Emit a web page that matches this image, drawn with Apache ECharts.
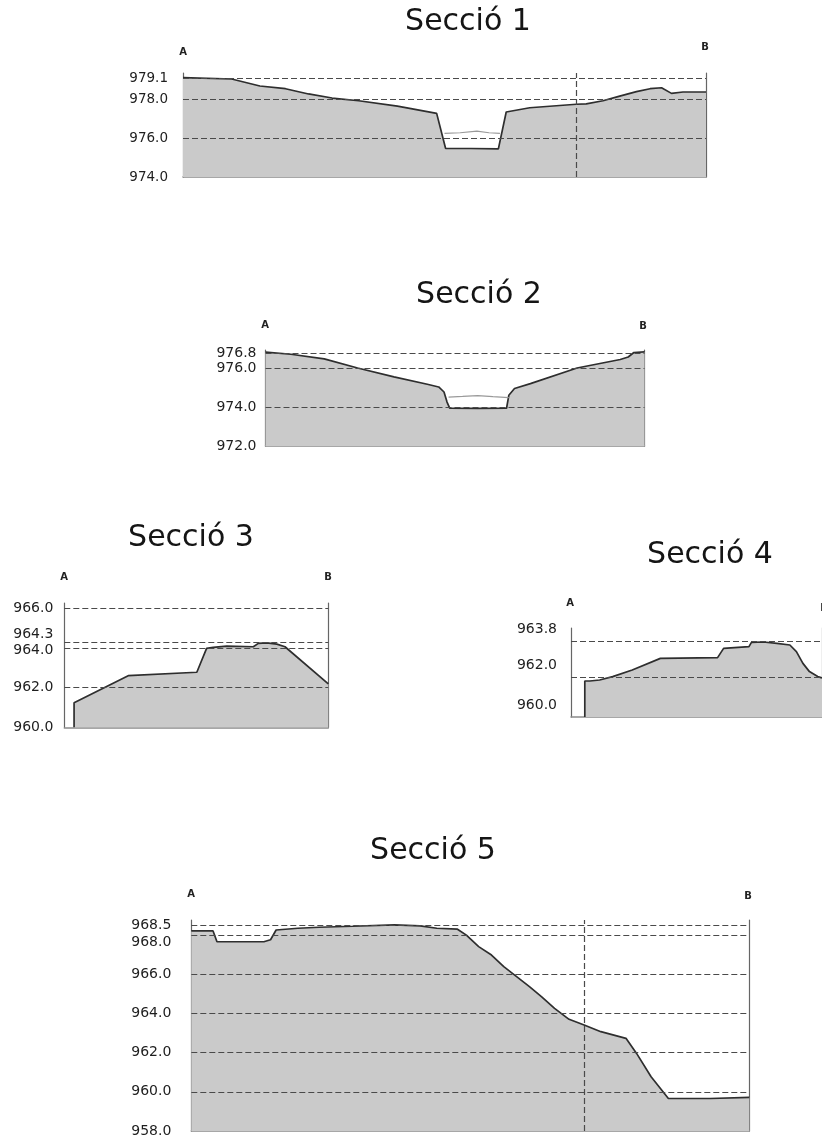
<!DOCTYPE html>
<html><head><meta charset="utf-8">
<script src="https://cdn.jsdelivr.net/npm/echarts@6/dist/echarts.min.js"></script>
<style>html,body{margin:0;padding:0;background:#fff}#c{width:822px;height:1141px}</style>
</head><body><div id="c"></div>
<script>
// ---------------- DATA ----------------
const titles = ['Secció 1', 'Secció 2', 'Secció 3', 'Secció 4', 'Secció 5'];
const endLabels = ['A', 'B'];

// Secció 1
const s1Dist = [0, 9.3, 14.7, 19.6, 24.0, 28.5, 33.6, 41.0, 48.5, 50.2, 55.0, 60.3, 61.8, 66.3, 75.2, 77.1, 80.3, 83.5, 86.7, 89.3, 91.5, 93.4, 95.6, 100];
const s1Elev = [979.12, 979.05, 978.69, 978.55, 978.28, 978.07, 977.93, 977.65, 977.28, 975.48, 975.47, 975.45, 977.35, 977.57, 977.75, 977.77, 977.93, 978.17, 978.40, 978.55, 978.60, 978.31, 978.38, 978.38];
const s1WaterDist = [50.0, 53.0, 56.2, 58.5, 60.6];
const s1WaterElev = [976.25, 976.28, 976.36, 976.28, 976.25];
const s1Ticks = [974.0, 976.0, 978.0, 979.1];
const s1Levels = [976.0, 978.0, 979.1];
const s1Marker = 75.1;

// Secció 2
const s2Dist = [0, 6.7, 15.5, 24.3, 33.9, 42.7, 45.7, 47.1, 47.9, 48.6, 56.0, 63.6, 64.2, 65.7, 69.9, 82.2, 93.6, 95.7, 97.2, 100];
const s2Elev = [976.85, 976.74, 976.50, 976.03, 975.57, 975.19, 975.05, 974.79, 974.27, 973.96, 973.94, 973.95, 974.62, 974.97, 975.22, 976.03, 976.47, 976.60, 976.83, 976.86];
const s2WaterDist = [48.3, 52.0, 56.0, 60.0, 64.2];
const s2WaterElev = [974.53, 974.56, 974.60, 974.55, 974.50];
const s2Ticks = [972.0, 974.0, 976.0, 976.8];
const s2Levels = [974.0, 976.0, 976.8];

// Secció 3
const s3Dist = [3.7, 3.7, 24.2, 50.2, 53.9, 56.4, 61.5, 71.6, 73.5, 76.7, 80.5, 83.6, 100];
const s3Elev = [960.0, 961.24, 962.61, 962.78, 963.99, 964.04, 964.10, 964.07, 964.24, 964.27, 964.20, 964.07, 962.19];
const s3Ticks = [960.0, 962.0, 964.0, 964.3, 966.0];
const s3Levels = [962.0, 964.0, 964.3, 966.0];

// Secció 4
const s4Dist = [5.5, 5.5, 7.5, 11.4, 16.6, 24.4, 35.6, 58.4, 60.8, 70.9, 71.9, 76.7, 82.0, 87.2, 89.8, 92.4, 95.0, 98.3, 100];
const s4Elev = [960.0, 961.80, 961.80, 961.85, 962.02, 962.35, 962.93, 962.97, 963.43, 963.52, 963.73, 963.75, 963.68, 963.60, 963.27, 962.68, 962.27, 962.02, 961.95];
const s4Ticks = [960.0, 962.0, 963.8];
const s4Levels = [962.0, 963.8];

// Secció 5
const s5Dist = [0, 3.9, 4.6, 13.0, 14.2, 15.2, 19.1, 22.9, 28.9, 36.4, 41.0, 44.0, 47.7, 49.3, 51.5, 53.8, 56.0, 58.3, 60.6, 62.8, 65.1, 67.7, 70.4, 73.4, 77.9, 79.8, 82.4, 85.5, 93.0, 100];
const s5Elev = [968.21, 968.21, 967.66, 967.66, 967.76, 968.26, 968.35, 968.40, 968.45, 968.52, 968.47, 968.35, 968.30, 968.00, 967.41, 966.98, 966.39, 965.88, 965.37, 964.85, 964.26, 963.70, 963.41, 963.07, 962.73, 961.96, 960.77, 959.66, 959.66, 959.72];
const s5Ticks = [958.0, 960.0, 962.0, 964.0, 966.0, 968.0, 968.5];
const s5Levels = [960.0, 962.0, 964.0, 966.0, 968.0, 968.5];
const s5Marker = 70.4;

// ---------------- LAYOUT ----------------
const FONT = 'DejaVu Sans';
const layout = [
  {left: 183, top: 73, width: 523, height: 104, min: 974, max: 979.36, size: 13.5, margin: 15, off: {},
   title: [468, 22], A: [183, 52], B: [705, 47]},
  {left: 265.5, top: 350, width: 379, height: 96, min: 972, max: 976.96, size: 14, margin: 9, off: {},
   title: [479, 295], A: [265, 325], B: [643, 326]},
  {left: 64.3, top: 603, width: 264, height: 124.3, min: 960, max: 966.28, size: 14, margin: 11, off: {'964.3': -8, '964.0': 2},
   title: [191, 538], A: [64, 577], B: [328, 577]},
  {left: 571, top: 628, width: 255, height: 89, min: 960, max: 964.45, size: 14, margin: 14, off: {all: -12},
   title: [710, 555], A: [570, 603], B: [824, 608]},
  {left: 191.3, top: 920, width: 558, height: 211, min: 958, max: 968.77, size: 14, margin: 20, off: {'968.0': 7},
   title: [433, 851], A: [191, 894], B: [748, 896]}
];

const sections = [
  {dist: s1Dist, elev: s1Elev, wDist: s1WaterDist, wElev: s1WaterElev, ticks: s1Ticks, levels: s1Levels, marker: s1Marker},
  {dist: s2Dist, elev: s2Elev, wDist: s2WaterDist, wElev: s2WaterElev, ticks: s2Ticks, levels: s2Levels},
  {dist: s3Dist, elev: s3Elev, ticks: s3Ticks, levels: s3Levels},
  {dist: s4Dist, elev: s4Elev, ticks: s4Ticks, levels: s4Levels},
  {dist: s5Dist, elev: s5Elev, ticks: s5Ticks, levels: s5Levels, marker: s5Marker}
];

function offsetOf(L, v) {
  if (L.off.all !== undefined) return L.off.all;
  const k = v.toFixed(1);
  return L.off[k] || 0;
}
function keyOf(o) { return o < 0 ? 'u' + (-o) : (o > 0 ? 'd' + o : 'n'); }

const grid = [], xAxis = [], yAxis = [], series = [], graphic = [];
sections.forEach((S, i) => {
  const L = layout[i];
  grid.push({left: L.left, top: L.top, width: L.width, height: L.height, containLabel: false});
  xAxis.push({type: 'value', gridIndex: i, min: 0, max: 100,
    axisLine: {show: true, onZero: false, lineStyle: {color: '#8a8a8a', width: 1.5}},
    axisTick: {show: false}, axisLabel: {show: false}, splitLine: {show: false}});
  const base = {fontFamily: FONT, fontSize: L.size, color: '#1e1e1e'};
  const rich = {n: Object.assign({}, base)};
  S.ticks.forEach(t => {
    const o = offsetOf(L, t);
    if (o !== 0) rich[keyOf(o)] = Object.assign({}, base, {padding: o < 0 ? [0, 0, -2 * o, 0] : [2 * o, 0, 0, 0]});
  });
  yAxis.push({type: 'value', gridIndex: i, min: L.min, max: L.max, position: 'left',
    axisLine: {show: true, onZero: false, lineStyle: {color: '#666', width: 1.2}},
    axisTick: {show: false}, splitLine: {show: false},
    axisLabel: {show: true, customValues: S.ticks, margin: L.margin, fontFamily: FONT, fontSize: L.size, color: '#1e1e1e',
      formatter: v => '{' + keyOf(offsetOf(L, v)) + '|' + v.toFixed(1) + '}', rich: rich}});
  yAxis.push({type: 'value', gridIndex: i, min: L.min, max: L.max, position: 'right',
    axisLine: {show: true, onZero: false, lineStyle: {color: '#666', width: 1.2}},
    axisTick: {show: false}, splitLine: {show: false}, axisLabel: {show: false}});
  const mlData = S.levels.map(v => ({yAxis: v}));
  if (S.marker !== undefined) mlData.push({xAxis: S.marker});
  series.push({
    type: 'line', xAxisIndex: i, yAxisIndex: 2 * i, symbol: 'none', showSymbol: false,
    data: S.dist.map((d, k) => [d, S.elev[k]]),
    lineStyle: {color: '#2e2e2e', width: 1.7},
    areaStyle: {color: '#cacaca', opacity: 1, origin: 'start'},
    markLine: {silent: true, symbol: ['none', 'none'], label: {show: false},
      lineStyle: {type: [6, 3], color: '#4a4a4a', width: 1.2}, data: mlData},
    z: 2
  });
  if (S.wDist) {
    series.push({type: 'line', xAxisIndex: i, yAxisIndex: 2 * i, symbol: 'none', showSymbol: false,
      data: S.wDist.map((d, k) => [d, S.wElev[k]]),
      lineStyle: {color: '#9a9a9a', width: 1.2}, z: 3});
  }
  graphic.push({type: 'text', x: L.title[0], y: L.title[1],
    style: {text: titles[i], fontFamily: FONT, fontSize: 30, fill: '#151515', align: 'center', verticalAlign: 'middle',
      textAlign: 'center', textVerticalAlign: 'middle'}});
  ['A', 'B'].forEach((k, j) => {
    graphic.push({type: 'text', x: L[k][0], y: L[k][1],
      style: {text: endLabels[j], fontFamily: FONT, fontSize: 10, fontWeight: 'bold', fill: '#222', align: 'center', verticalAlign: 'middle',
        textAlign: 'center', textVerticalAlign: 'middle'}});
  });
});

const chart = echarts.init(document.getElementById('c'), null, {renderer: 'canvas'});
chart.setOption({animation: false, backgroundColor: '#fff', grid, xAxis, yAxis, series, graphic});
</script></body></html>
